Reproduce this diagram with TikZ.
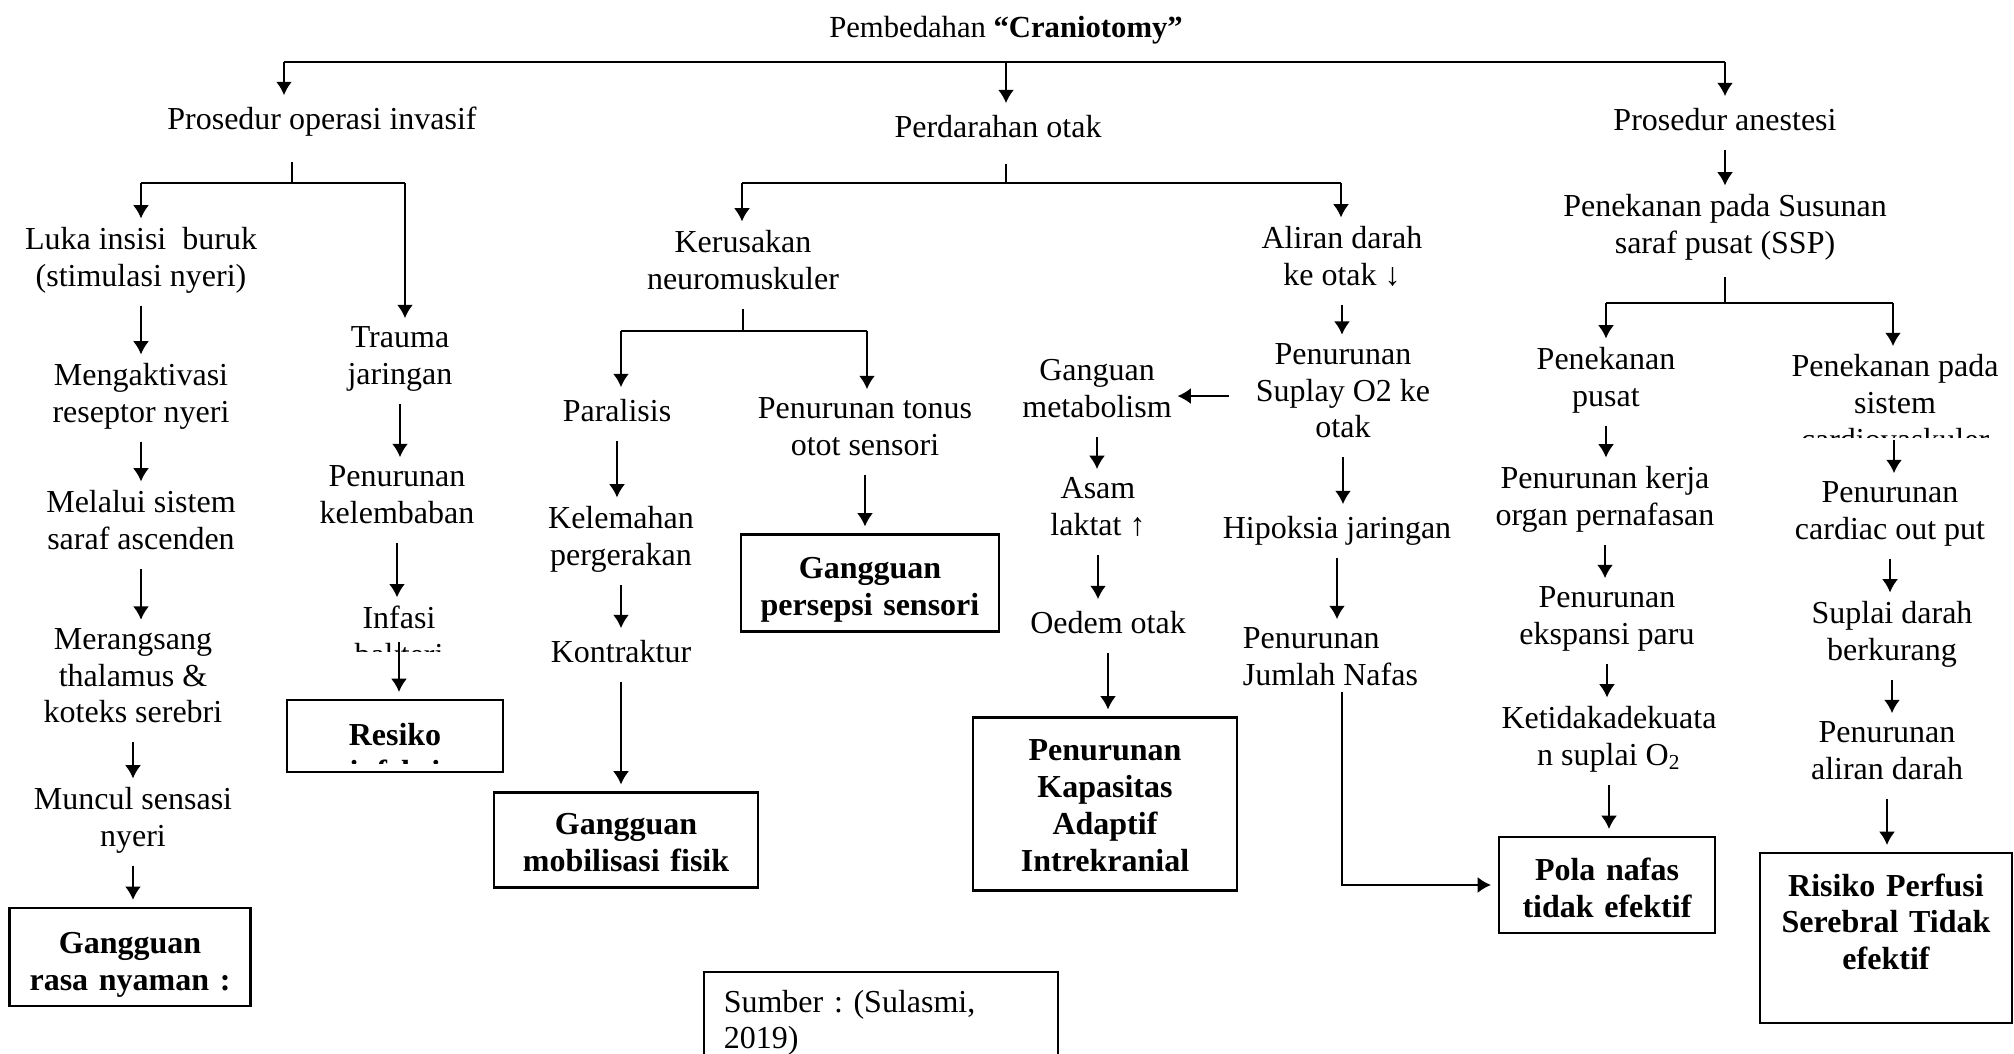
\documentclass[tikz,border=0pt]{standalone}
\usepackage{fontspec}
\setmainfont{Liberation Serif}
\usetikzlibrary{arrows.meta}
\frenchspacing

\begin{document}
\begin{tikzpicture}[x=0.375pt,y=-0.375pt]
\tikzset{every node/.style={font=\fontsize{12}{13.8}\selectfont}}
\tikzset{teks/.style={align=center,inner xsep=2pt,inner ysep=3pt,yshift=-1.9pt,execute at begin node=\strut,execute at end node=\strut}}
\tikzset{kotak/.style={draw,line width=0.9pt,align=center,inner xsep=4pt,outer sep=3pt,font=\fontsize{12}{13.8}\selectfont\bfseries,execute at begin node=\rule{0pt}{#1}},kotak/.default=12pt}
\tikzset{panah/.style={-{Latex[length=5pt,width=6pt]},line width=0.75pt}}
\tikzset{garis/.style={line width=0.75pt}}
\useasboundingbox (0,0) rectangle (2014,1054);
\clip (0,0) rectangle (2014,1054);

% judul dan tiga cabang
\node[teks,font=\fontsize{11.5}{13.2}\selectfont] (judul) at (1006,25) {Pembedahan \textbf{“Craniotomy”}};
\node[teks] (invasif) at (322,117) {Prosedur operasi invasif};
\node[teks] (perdarahan) at (998,125) {Perdarahan otak};
\node[teks] (anestesi) at (1725,118) {Prosedur anestesi};

% prosedur operasi invasif
\node[teks] (luka) at (141,257) {Luka insisi\ \ buruk\\(stimulasi nyeri)};
\node[teks] (aktivasi) at (141,393) {Mengaktivasi\\reseptor nyeri};
\node[teks] (ascenden) at (141,520) {Melalui sistem\\saraf ascenden};
\node[teks] (thalamus) at (133,676) {Merangsang\\thalamus \&\\koteks serebri};
\node[teks] (sensasi) at (133,817) {Muncul sensasi\\nyeri};
\node[kotak=13.8pt,text width=82.4pt,minimum height=36.4pt] (nyaman) at (130,957) {Gangguan\\rasa nyaman :};
\node[teks] (trauma) at (400,356) {Trauma\\jaringan};
\node[teks] (lembab) at (397,495) {Penurunan\\kelembaban};
\begin{scope}
\clip (290,590) rectangle (510,652);
\node[teks] (infasi) at (399,636) {Infasi\\bakteri};
\end{scope}
\coordinate (infasiujung) at (399,642);
\node[kotak,minimum width=81pt,minimum height=27pt] (resiko) at (395,736) {};
\begin{scope}
\clip (290,703) rectangle (500,763);
\node[teks,font=\fontsize{12}{13.8}\selectfont\bfseries] (resikoteks) at (395,753) {Resiko\\infeksi};
\end{scope}

% perdarahan otak
\node[teks] (kerusakan) at (743,260) {Kerusakan\\neuromuskuler};
\node[teks] (paralisis) at (617,409) {Paralisis};
\node[teks] (kelemahan) at (621,536) {Kelemahan\\pergerakan};
\node[teks] (kontraktur) at (621,650) {Kontraktur};
\node[kotak=10pt,text width=91pt,minimum height=35.6pt] (mobilisasi) at (626,840) {Gangguan\\mobilisasi fisik};
\node[teks] (tonus) at (865,427) {Penurunan tonus\\otot sensori};
\node[kotak=12.8pt,text width=88.8pt,minimum height=36.4pt] (persepsi) at (870,583) {Gangguan\\persepsi sensori};
\node[teks] (aliran) at (1342,256) {Aliran darah\\ke otak ↓};
\node[teks] (suplay) at (1343,391) {Penurunan\\Suplay O2 ke\\otak};
\node[teks] (ganguan) at (1097,389) {Ganguan\\metabolism};
\node[teks] (asam) at (1098,507) {Asam\\laktat ↑};
\node[teks] (oedem) at (1108,621) {Oedem otak};
\node[kotak=9pt,text width=91pt,minimum height=64.9pt] (kapasitas) at (1105,804) {Penurunan\\Kapasitas\\Adaptif\\Intrekranial};
\node[teks] (hipoksia) at (1337,526) {Hipoksia jaringan};
\node[teks,align=left,anchor=west] (jumlah) at (1237,657) {Penurunan\\Jumlah Nafas};

% prosedur anestesi
\node[teks] (ssp) at (1725,224) {Penekanan pada Susunan\\saraf pusat (SSP)};
\node[teks] (pusat) at (1606,377) {Penekanan\\pusat};
\node[teks] (kerja) at (1605,496) {Penurunan kerja\\organ pernafasan};
\node[teks] (ekspansi) at (1607,616) {Penurunan\\ekspansi paru};
\node[teks] (ketidak) at (1609,736) {Ketidakadekuata\\n suplai O\textsubscript{2}};
\node[kotak=10.9pt,text width=73pt,minimum height=36pt] (pola) at (1607,885) {Pola nafas\\tidak efektif};
\begin{scope}
\clip (1760,330) rectangle (2014,438);
\node[teks] (cardio) at (1895,403) {Penekanan pada\\sistem\\cardiovaskuler};
\end{scope}
\coordinate (cardioujung) at (1894,440);
\node[teks] (cardiac) at (1890,511) {Penurunan\\cardiac out put};
\node[teks] (suplai) at (1892,631) {Suplai darah\\berkurang};
\node[teks] (alirandarah) at (1887,751) {Penurunan\\aliran darah};
\node[kotak=0pt,text width=86.5pt,minimum height=63.75pt] (perfusi) at (1886,938) {Risiko Perfusi\\Serebral Tidak\\efektif\rule[-12.3pt]{0pt}{12.3pt}};

\node[draw,line width=0.6pt,anchor=north west,text width=117.75pt,inner xsep=7.5pt,align=left,minimum height=35.6pt,execute at begin node=\rule{0pt}{11pt}] (sumber) at (703,971) {Sumber : (Sulasmi,\\2019)};

% garis cabang
\coordinate (bus1L) at (284,62);
\coordinate (bus1M) at (1006,62);
\coordinate (bus1R) at (1725,62);
\draw[garis] (bus1L) -- (bus1R);
\draw[panah] (bus1L) -- (bus1L |- invasif.north);
\draw[panah] (bus1M) -- (bus1M |- perdarahan.north);
\draw[panah] (bus1R) -- (anestesi);

\coordinate (bus2) at (292,183);
\coordinate (bus2L) at (141,183);
\coordinate (bus2R) at (405,183);
\draw[garis,shorten <=5pt] (invasif.south -| bus2) -- (bus2);
\draw[garis] (bus2L) -- (bus2R);
\draw[panah] (bus2L) -- (bus2L |- luka.north);
\draw[panah] (bus2R) -- (bus2R |- trauma.north);

\coordinate (bus3L) at (742,183);
\coordinate (bus3R) at (1341,183);
\draw[garis,shorten <=2.5pt] (bus1M |- perdarahan.south) -- (bus1M |- bus3L);
\draw[garis] (bus3L) -- (bus3R);
\draw[panah] (bus3L) -- (bus3L |- kerusakan.north);
\draw[panah] (bus3R) -- (bus3R |- aliran.north);

\coordinate (bus4L) at (621,331);
\coordinate (bus4R) at (867,331);
\draw[garis] (kerusakan.south) -- (kerusakan.south |- bus4L);
\draw[garis] (bus4L) -- (bus4R);
\draw[panah] (bus4L) -- (bus4L |- paralisis.north);
\draw[panah] (bus4R) -- (bus4R |- tonus.north);

\coordinate (bus5L) at (1606,303);
\coordinate (bus5R) at (1893,303);
\draw[garis,shorten <=1.5pt] (ssp.south) -- (ssp.south |- bus5L);
\draw[garis] (bus5L) -- (bus5R);
\draw[panah] (bus5L) -- (bus5L |- pusat.north);
\draw[panah] (bus5R) -- (bus5R |- cardio.north);

% panah urutan
\draw[panah] (luka.south) -- (luka.south |- aktivasi.north);
\draw[panah] (aktivasi.south) -- (aktivasi.south |- ascenden.north);
\draw[panah] (ascenden.south) -- (ascenden.south |- thalamus.north);
\draw[panah] (thalamus.south) -- (thalamus.south |- sensasi.north);
\draw[panah] (sensasi.south) -- (sensasi.south |- nyaman.north);
\draw[panah] (trauma.south) -- (trauma.south |- lembab.north);
\draw[panah] (lembab.south) -- (lembab.south |- infasi.north);
\draw[panah] (infasiujung) -- (infasiujung |- resiko.north);
\draw[panah] (paralisis.south) -- (paralisis.south |- kelemahan.north);
\draw[panah] (kelemahan.south) -- (kelemahan.south |- kontraktur.north);
\draw[panah] (kontraktur.south) -- (kontraktur.south |- mobilisasi.north);
\draw[panah] (tonus.south) -- (tonus.south |- persepsi.north);
\draw[panah] (aliran.south) -- (aliran.south |- suplay.north);
\draw[panah,shorten <=8pt] (suplay.west) -- (suplay.west -| ganguan.east);
\draw[panah] (ganguan.south) -- (ganguan.south |- asam.north);
\draw[panah] (asam.south) -- (asam.south |- oedem.north);
\draw[panah] (oedem.south) -- (oedem.south |- kapasitas.north);
\draw[panah] (suplay.south) -- (suplay.south |- hipoksia.north);
\draw[panah] (hipoksia.south) -- (hipoksia.south |- jumlah.north);
\draw[panah] ([yshift=5pt]jumlah.south -| aliran) |- (pola.west);
\draw[panah] (anestesi.south) -- (anestesi.south |- ssp.north);
\draw[panah] (pusat.south) -- (pusat.south |- kerja.north);
\draw[panah] (kerja.south) -- (kerja.south |- ekspansi.north);
\draw[panah] (ekspansi.south) -- (ekspansi.south |- ketidak.north);
\draw[panah] (ketidak.south) -- (ketidak.south |- pola.north);
\draw[panah] (cardioujung) -- (cardioujung |- cardiac.north);
\draw[panah] (cardiac.south) -- (cardiac.south |- suplai.north);
\draw[panah] (suplai.south) -- (suplai.south |- alirandarah.north);
\draw[panah] (alirandarah.south) -- (alirandarah.south |- perfusi.north);
\end{tikzpicture}
\end{document}
